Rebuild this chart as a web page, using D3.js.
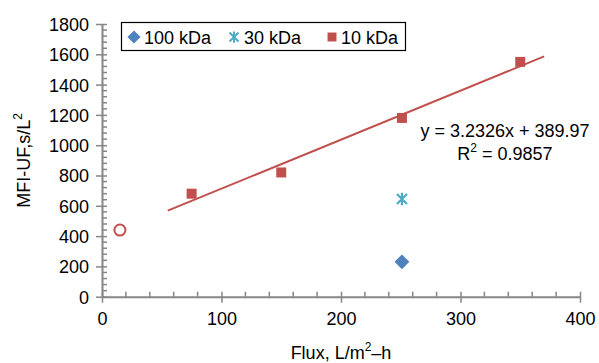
<!DOCTYPE html>
<html>
<head>
<meta charset="utf-8">
<script src="https://cdn.jsdelivr.net/npm/d3@7"></script>
<style>
  html, body { margin: 0; padding: 0; background: #fff; }
  svg { display: block; font-family: "Liberation Sans", Arial, Helvetica, sans-serif; }
</style>
</head>
<body>
<svg id="chart" width="599" height="363"></svg>
<script>
// ---- data ----
const xTicks = [0, 100, 200, 300, 400];
const yTicks = [0, 200, 400, 600, 800, 1000, 1200, 1400, 1600, 1800];
const seriesNames = ["100 kDa", "30 kDa", "10 kDa"];
const flux100 = [251];
const mfi100 = [230];
const flux30 = [251];
const mfi30 = [645];
const flux10 = [75, 150, 251, 350];
const mfi10 = [680, 820, 1180, 1550];
const outlierFlux = [15];
const outlierMfi = [440];
const trendSlope = 3.2326;
const trendIntercept = 389.97;
const trendRange = [55, 370];
const eqLines = ["y = 3.2326x + 389.97", "R", "2", " = 0.9857"];

// ---- layout ----
const W = 599, H = 363;
const margin = { left: 102, right: 19, top: 24, bottom: 66.3 };
const svg = d3.select("#chart");
const x = d3.scaleLinear().domain([0, 400]).range([margin.left, W - margin.right]);
const y = d3.scaleLinear().domain([0, 1800]).range([H - margin.bottom, margin.top]);

const axisColor = "#868686";
const blue = "#4f81bd", cyan = "#4bacc6", red = "#c0504d";

// minor ticks
const g = svg.append("g");
const xMinor = d3.range(0, 401, 20).filter(v => v % 100 !== 0);
const yMinor = d3.range(0, 1801, 40).filter(v => v % 200 !== 0);
g.selectAll(".xm").data(xMinor).join("line")
  .attr("x1", d => x(d)).attr("x2", d => x(d))
  .attr("y1", y(0)).attr("y2", y(0) - 5)
  .attr("stroke", axisColor).attr("stroke-width", 1.5);
g.selectAll(".ym").data(yMinor).join("line")
  .attr("y1", d => y(d)).attr("y2", d => y(d))
  .attr("x1", x(0)).attr("x2", x(0) + 5)
  .attr("stroke", axisColor).attr("stroke-width", 1.5);

// x axis
const xAxis = d3.axisBottom(x).tickValues(xTicks).tickFormat(d3.format("d")).tickSize(0).tickPadding(0);
const xg = svg.append("g").attr("transform", `translate(0,${y(0)})`).call(xAxis);
xg.select(".domain").attr("stroke", axisColor).attr("stroke-width", 2);
xg.selectAll(".tick line").remove();
xg.selectAll(".tick").append("line").attr("y1", -5).attr("y2", 6)
  .attr("stroke", axisColor).attr("stroke-width", 1.5);
xg.selectAll(".tick text").attr("y", 28).attr("dy", null)
  .attr("font-size", 18).attr("fill", "#000").attr("font-family", "Liberation Sans, Arial, sans-serif");

// y axis
const yAxis = d3.axisLeft(y).tickValues(yTicks).tickFormat(d3.format("d")).tickSize(0).tickPadding(0);
const yg = svg.append("g").attr("transform", `translate(${x(0)},0)`).call(yAxis);
yg.select(".domain").attr("stroke", axisColor).attr("stroke-width", 2);
yg.selectAll(".tick line").remove();
yg.selectAll(".tick").append("line").attr("x1", -6).attr("x2", 5)
  .attr("stroke", axisColor).attr("stroke-width", 1.5);
yg.selectAll(".tick text").attr("x", -13).attr("dy", "0.36em")
  .attr("font-size", 18).attr("fill", "#000").attr("font-family", "Liberation Sans, Arial, sans-serif");

// axis titles
const yt = svg.append("text")
  .attr("transform", `translate(30,${(y(0) + y(1800)) / 2}) rotate(-90)`)
  .attr("text-anchor", "middle").attr("font-size", 18).attr("fill", "#000");
yt.append("tspan").text("MFI-UF,s/L");
yt.append("tspan").attr("font-size", 12).attr("dy", -8).text("2");

const xt = svg.append("text")
  .attr("x", (x(0) + x(400)) / 2).attr("y", 359)
  .attr("text-anchor", "middle").attr("font-size", 18).attr("fill", "#000");
xt.append("tspan").text("Flux, L/m");
xt.append("tspan").attr("font-size", 12).attr("dy", -8).text("2");
xt.append("tspan").attr("dy", 8).text("\u2013h");

// trendline
svg.append("line")
  .attr("x1", x(trendRange[0])).attr("y1", y(trendSlope * trendRange[0] + trendIntercept))
  .attr("x2", x(trendRange[1])).attr("y2", y(trendSlope * trendRange[1] + trendIntercept))
  .attr("stroke", red).attr("stroke-width", 2);

// markers
const diamond = d3.symbol().type(d3.symbolDiamond2).size(140);
const legDiamond = d3.symbol().type(d3.symbolDiamond2).size(110);
const square = d3.symbol().type(d3.symbolSquare).size(100);
function asterisk(s) {
  return `M${-s},${-s}L${s},${s}M${-s},${s}L${s},${-s}M0,${-s * 1.25}L0,${s * 1.25}`;
}

svg.selectAll(".p100").data(flux100.map((f, i) => [f, mfi100[i]])).join("path")
  .attr("transform", d => `translate(${x(d[0])},${y(d[1])})`)
  .attr("d", diamond).attr("fill", blue);

svg.selectAll(".p30").data(flux30.map((f, i) => [f, mfi30[i]])).join("path")
  .attr("transform", d => `translate(${x(d[0])},${y(d[1])})`)
  .attr("d", asterisk(5)).attr("stroke", cyan).attr("stroke-width", 2.2).attr("fill", "none");

svg.selectAll(".p10").data(flux10.map((f, i) => [f, mfi10[i]])).join("path")
  .attr("transform", d => `translate(${x(d[0])},${y(d[1])})`)
  .attr("d", square).attr("fill", red);

svg.selectAll(".pout").data(outlierFlux.map((f, i) => [f, outlierMfi[i]])).join("circle")
  .attr("cx", d => x(d[0])).attr("cy", d => y(d[1])).attr("r", 5.5)
  .attr("fill", "none").attr("stroke", red).attr("stroke-width", 2);

// equation
svg.append("text").attr("x", 505).attr("y", 137).attr("text-anchor", "middle")
  .attr("font-size", 18).attr("fill", "#000").text(eqLines[0]);
const r2 = svg.append("text").attr("x", 505).attr("y", 160).attr("text-anchor", "middle")
  .attr("font-size", 18).attr("fill", "#000");
r2.append("tspan").text(eqLines[1]);
r2.append("tspan").attr("font-size", 12).attr("dy", -8).text(eqLines[2]);
r2.append("tspan").attr("dy", 8).text(eqLines[3]);

// legend
const lg = svg.append("g");
lg.append("rect").attr("x", 121.5).attr("y", 22.5).attr("width", 284).attr("height", 28)
  .attr("fill", "#fff").attr("stroke", "#000").attr("stroke-width", 1.2);
const legX = [134, 234, 332];
const legItems = lg.selectAll(".li").data(seriesNames).join("g")
  .attr("transform", (d, i) => `translate(${legX[i]},37)`);
legItems.each(function(d, i) {
  const gi = d3.select(this);
  if (i === 0) gi.append("path").attr("d", legDiamond).attr("fill", blue);
  if (i === 1) gi.append("path").attr("d", asterisk(4.5)).attr("stroke", cyan).attr("stroke-width", 2).attr("fill", "none");
  if (i === 2) gi.append("path").attr("d", d3.symbol().type(d3.symbolSquare).size(80)).attr("fill", red);
  gi.append("text").attr("x", i === 2 ? 9 : 10).attr("y", 6.5).attr("font-size", 18).attr("fill", "#000").text(d);
});
</script>
</body>
</html>
